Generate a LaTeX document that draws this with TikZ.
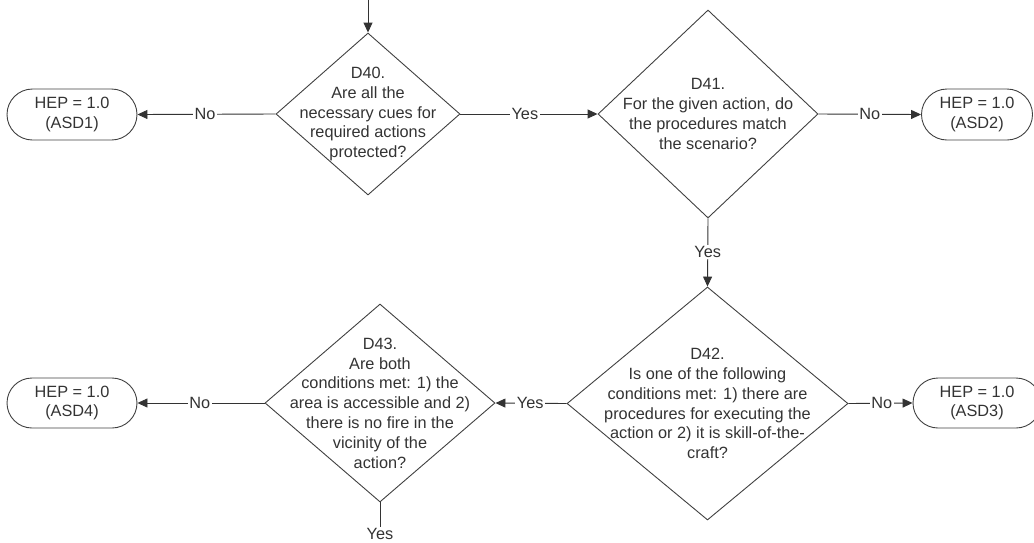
\documentclass[tikz,border=0pt]{standalone}
\usepackage{fontspec}
\setmainfont{Liberation Sans}
\usetikzlibrary{shapes.geometric,shapes.misc,arrows.meta}

\tikzset{
  every node/.style={font=\fontsize{16.3}{19.8}\selectfont, text=black!80},
  decision/.style={shape=diamond, draw=black!75, line width=0.9pt, inner sep=0pt},
  qtext/.style={align=center, inner sep=0pt},
  outcome/.style={shape=rounded rectangle, draw=black!75, line width=0.9pt,
    minimum height=51pt, align=center, inner sep=0pt},
  flow/.style={draw=black!80, line width=0.9pt, -{Triangle[length=10pt,width=9pt]}},
  plain/.style={draw=black!80, line width=0.9pt},
  lbl/.style={fill=white, inner sep=1.5pt}
}

\begin{document}
\begin{tikzpicture}[x=1pt, y=-1pt]
\useasboundingbox (0,0) rectangle (1034,542);

% decisions
\node[decision, minimum width=184pt, minimum height=162pt] (d40) at (368,114) {};
\node[qtext] (d40t) at (d40.center) {D40.\\Are all the\\necessary cues for\\required actions\\protected?};

\node[decision, minimum width=220pt, minimum height=208pt] (d41) at (708,114) {};
\node[qtext] (d41t) at (d41.center) {D41.\\For the given action, do\\the procedures match\\the scenario?};

\node[decision, minimum width=281pt, minimum height=233pt] (d42) at (707.5,403.5) {};
\node[qtext] (d42t) at (d42.center) {D42.\\Is one of the following\\conditions met: 1) there are\\procedures for executing the\\action or 2) it is skill-of-the-\\craft?};

\node[decision, minimum width=230pt, minimum height=198pt] (d43) at (380,403) {};
\node[qtext] (d43t) at (d43.center) {D43.\\Are both\\conditions met: 1) the\\area is accessible and 2)\\there is no fire in the\\vicinity of the\\action?};

% end states
\node[outcome, minimum width=130pt] (asd1) at (72,114.5) {HEP = 1.0\\(ASD1)};
\node[outcome, minimum width=111pt] (asd2) at (977,114.5) {HEP = 1.0\\(ASD2)};
\node[outcome, minimum width=128pt, minimum height=50pt] (asd3) at (977,403) {HEP = 1.0\\(ASD3)};
\node[outcome, minimum width=130pt, minimum height=50pt] (asd4) at (72,403) {HEP = 1.0\\(ASD4)};

% entry and loose end
\coordinate (entry) at (368,0);
\node[inner sep=1pt] (yesend) at (380,534) {Yes};

% connectors
\draw[flow] (entry) -- (d40.north);
\draw[flow] (d40.west) -- node[lbl, pos=0.51] {No} (asd1.east);
\draw[flow] (d40.east) -- node[lbl, pos=0.47] {Yes} (d41.west);
\draw[flow] (d41.east) -- node[lbl, pos=0.5] {No} (asd2.west);
\draw[flow] (d41.south) -- node[lbl, pos=0.49] {Yes} (d42.north);
\draw[flow] (d42.east) -- node[lbl, pos=0.52] {No} (asd3.west);
\draw[flow] (d42.west) -- node[lbl, pos=0.51] {Yes} (d43.east);
\draw[flow] (d43.west) -- node[lbl, pos=0.51] {No} (asd4.east);
\draw[plain] (d43.south) -- (yesend.north);
\end{tikzpicture}
\end{document}
